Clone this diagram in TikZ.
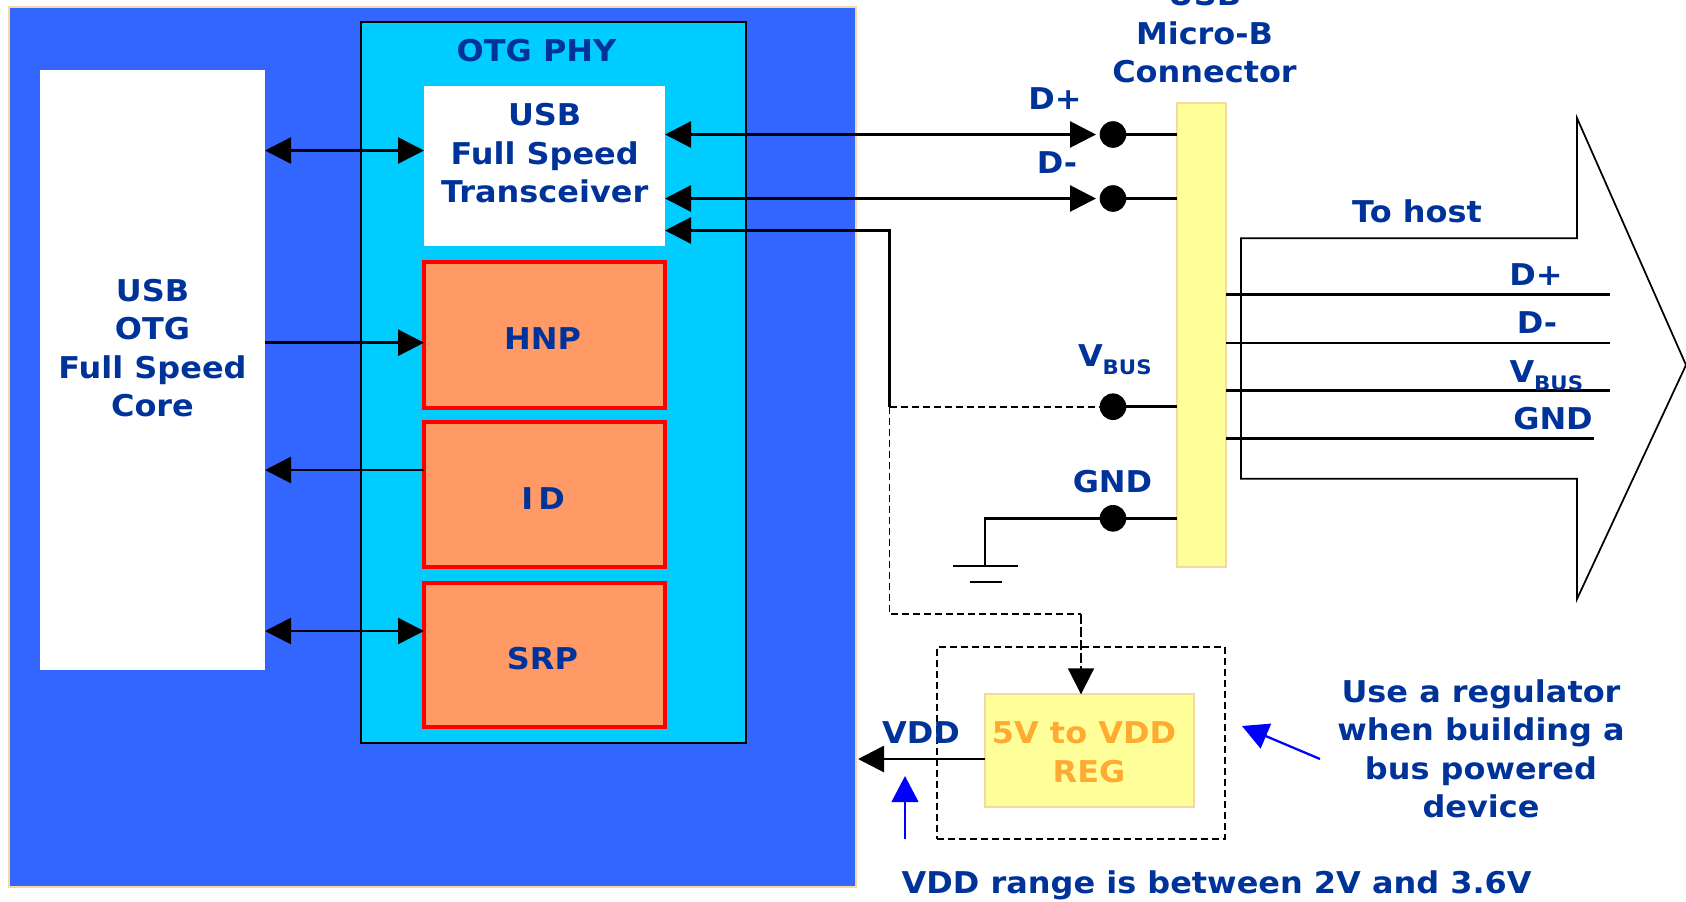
\documentclass[tikz,border=0pt]{standalone}
\usepackage{fontspec}
\usetikzlibrary{arrows.meta,calc}
\newfontfamily\lblfont{DejaVu Sans}[FakeStretch=1.065]
\newlength\pxu \setlength\pxu{.75pt}
\definecolor{bgblue}{HTML}{3366FF}
\definecolor{phycyan}{HTML}{00CCFF}
\definecolor{blockorange}{HTML}{FF9966}
\definecolor{connyellow}{HTML}{FFFF99}
\definecolor{edgetan}{HTML}{F5D9A0}
\definecolor{labelblue}{HTML}{003399}
\definecolor{regorange}{HTML}{FFAA33}
\definecolor{noteblue}{HTML}{0000FF}
\newcommand\busname{V\raisebox{-8\pxu}{\fontsize{15pt}{15pt}\selectfont BUS}}
\tikzset{
  x=.75pt,y=-.75pt,
  lbl/.style={inner sep=0pt,outer sep=0pt,text=labelblue,align=center,
    font=\lblfont\bfseries\fontsize{22.5pt}{28.9pt}\selectfont},
  boxbase/.style={rectangle,inner sep=0pt,outer sep=0pt,anchor=north west},
  whitebox/.style={boxbase,fill=white},
  phybox/.style={boxbase,fill=phycyan,draw=black,line width=1.5pt},
  logicbox/.style={boxbase,fill=blockorange,draw=red,line width=2.8pt,minimum width=241\pxu,minimum height=146\pxu},
  yellowbox/.style={boxbase,fill=connyellow,draw=edgetan,line width=1.6pt},
  pin/.style={circle,fill=black,inner sep=0pt,outer sep=0pt,minimum size=26.6\pxu},
  wire/.style={line width=2.1pt,black},
  thinwire/.style={line width=1.6pt,black},
  dashwire/.style={line width=1.4pt,black,dash pattern=on 7\pxu off 4\pxu},
  tipfwd/.style={-{Triangle[length=19.5pt,width=19.5pt]}},
  tipboth/.style={{Triangle[length=19.5pt,width=19.5pt]}-{Triangle[length=19.5pt,width=19.5pt]}},
  noteline/.style={line width=1.7pt,noteblue,-{Triangle[length=19.5pt,width=20pt]}},
}
\begin{document}
\begin{tikzpicture}
\useasboundingbox (0,0) rectangle (1686,901);
\node[boxbase,fill=bgblue,draw=edgetan,line width=2pt,minimum width=847\pxu,minimum height=880\pxu] (bg) at (9,7) {};
\node[whitebox,minimum width=225\pxu,minimum height=600\pxu] (core) at (40,70) {};
\node[lbl] (coretext) at (152.5,348) {USB\\OTG\\Full Speed\\Core};
\node[phybox,minimum width=384.5\pxu,minimum height=721\pxu] (phy) at (361,22) {};
\node[lbl] (phytext) at (536.5,50.7) {OTG PHY};
\node[whitebox,minimum width=241\pxu,minimum height=160\pxu] (trans) at (424,86) {};
\node[lbl] (transtext) at (544.7,153.5) {USB\\Full Speed\\Transceiver};
\node[logicbox] (hnp) at (424,262) {};
\node[logicbox,minimum height=145\pxu] (idb) at (424,422) {};
\node[logicbox,minimum height=144\pxu] (srp) at (424,583) {};
\node[lbl,yshift=-3pt] (hnptext) at ([xshift=-1.5pt]hnp.center) {HNP};
\node[lbl,yshift=-3pt] (idtext) at ([xshift=-1pt]idb.center) {I\,D};
\node[lbl,yshift=-3pt] (srptext) at ([xshift=-1.5pt]srp.center) {SRP};
% big arrow
\draw[line width=1.3pt] (1241,238.3) coordinate (ba) -- (1577,238.3) -- (1577,118) -- (1686,365) -- (1577,599) -- (1577,478.7) -- (1241,478.7) -- cycle;
% connector
\node[yellowbox,minimum width=49\pxu,minimum height=464\pxu] (conn) at (1177,103) {};
\node[lbl] (conntext) at (1204.5,33.5) {USB\\Micro-B\\Connector};
% dots
\node[pin] (dp) at (1113,134.5) {};
\node[pin] (dm) at (1113,198.5) {};
\node[pin] (vb) at (1113,406.7) {};
\node[pin] (gn) at (1113,518.3) {};
% core to phy
\coordinate (tl) at (424,150.5);
\coordinate (hl) at (424,342.7);
\coordinate (il) at (424,470);
\coordinate (sl) at (424,631);
\draw[wire,tipboth] (core.east |- tl) -- (tl);
\draw[wire,tipfwd] (core.east |- hl) -- (hl);
\draw[wire,tipfwd] (il) -- (core.east |- il);
\draw[wire,tipboth] (core.east |- sl) -- (sl);
% transceiver to connector
\coordinate (dpr) at (1096,134.5);
\coordinate (dmr) at (1096,198.5);
\coordinate (bend) at (889.5,406.7);
\draw[wire,tipboth] (dpr -| trans.east) -- (dpr);
\draw[wire,tipboth] (dmr -| trans.east) -- (dmr);
\draw[wire] (dp) -- (conn.west |- dp);
\draw[wire] (dm) -- (conn.west |- dm);
\draw[wire,{Triangle[length=19.5pt,width=19.5pt]}-] (trans.east |- 0,230.5) -- (889.5,230.5) -- (bend);
\draw[dashwire] (bend) -- (vb);
\draw[wire] (vb) -- (conn.west |- vb);
\draw[wire] (gn) -- (conn.west |- gn);
% ground
\coordinate (gndtop) at (985,566);
\coordinate (gl1) at (953,566);
\coordinate (gr1) at (1018,566);
\coordinate (gl2) at (969.5,582);
\coordinate (gr2) at (1002,582);
\draw[wire] (gn) -| (gndtop);
\draw[wire] (gl1) -- (gr1);
\draw[wire] (gl2) -- (gr2);
% host lines
\coordinate (h1) at (1610,294.3);
\coordinate (h2) at (1610,342.7);
\coordinate (h3) at (1610,390.3);
\coordinate (h4) at (1594,438.3);
\draw[wire] (conn.east |- h1) -- (h1);
\draw[thinwire] (conn.east |- h2) -- (h2);
\draw[wire] (conn.east |- h3) -- (h3);
\draw[wire] (conn.east |- h4) -- (h4);
% regulator
\node[boxbase,draw=black,dash pattern=on 7\pxu off 4\pxu,line width=1.4pt,minimum width=288\pxu,minimum height=192\pxu] (reggroup) at (937,646.7) {};
\node[yellowbox,minimum width=209\pxu,minimum height=113\pxu] (reg) at (984.6,694.3) {};
\node[lbl,text=regorange] (regtext) at (1084,752) {5V to VDD\\\hspace*{10\pxu}REG};
\coordinate (rt1) at (889.5,614.3);
\coordinate (rt2) at (1081,614.3);
\draw[dashwire] (bend) -- (rt1) -- (rt2);
\coordinate (rt3) at (1081,694.3);
\draw[dashwire,tipfwd,dash pattern=on 10\pxu off 3\pxu] (rt2) -- (rt3);
\coordinate (vddtip) at (858,759);
\draw[wire,tipfwd] (reg.west |- vddtip) -- (vddtip);
% notes
\coordinate (n1s) at (905,838.7);
\coordinate (n1e) at (905,776);
\coordinate (n2s) at (1320,759);
\coordinate (n2e) at (1242,726);
\draw[noteline] (n1s) -- (n1e);
\draw[noteline] (n2s) -- (n2e);
% labels
\node[lbl] (ldp) at (1055,99) {D+};
\node[lbl] (ldm) at (1057,163) {D-};
\node[lbl,anchor=base west] (lvb) at (1078,366) {\busname};
\node[lbl] (lgn) at (1112.5,482) {GND};
\node[lbl] (lhost) at (1417,211) {To host};
\node[lbl] (rdp) at (1536,275) {D+};
\node[lbl] (rdm) at (1537,322.7) {D-};
\node[lbl,anchor=base west] (rvb) at (1509.5,382) {\busname};
\node[lbl] (rgn) at (1553,419) {GND};
\node[lbl] (lvdd) at (921,733) {VDD};
\node[lbl] (note) at (1481,749) {Use a regulator\\when building a\\bus powered\\device};
\node[lbl,anchor=base] (range) at (1216.7,893.7) {VDD range is between 2V and 3.6V};
\end{tikzpicture}
\end{document}
